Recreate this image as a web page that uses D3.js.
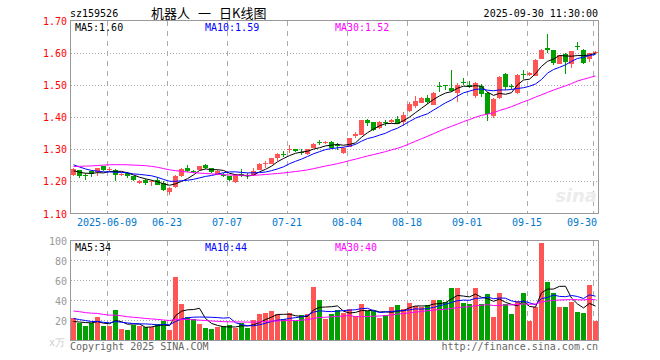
<!DOCTYPE html>
<html><head><meta charset="utf-8">
<script src="https://cdn.jsdelivr.net/npm/d3@7/dist/d3.min.js"></script>
<style>
html,body{margin:0;padding:0;background:#fff;}
svg{display:block;}
text{font-family:"DejaVu Sans Mono",monospace;font-size:10px;}
</style></head>
<body>
<svg id="chart" width="660" height="360"></svg>
<script>
// ---------- data ----------
const dates = ["05-29","05-30","06-03","06-04","06-05","06-06","06-09","06-10","06-11","06-12","06-13",
"06-16","06-17","06-18","06-19","06-20","06-23","06-24","06-25","06-26","06-27","06-30",
"07-01","07-02","07-03","07-04","07-07","07-08","07-09","07-10","07-11","07-14","07-15","07-16","07-17","07-18",
"07-21","07-22","07-23","07-24","07-25","07-28","07-29","07-30","07-31","08-01",
"08-04","08-05","08-06","08-07","08-08","08-11","08-12","08-13","08-14","08-15",
"08-18","08-19","08-20","08-21","08-22","08-25","08-26","08-27","08-28","08-29",
"09-01","09-02","09-03","09-04","09-05","09-08","09-09","09-10","09-11","09-12",
"09-15","09-16","09-17","09-18","09-19","09-22","09-23","09-24","09-25","09-26","09-29","09-30"];

const open = [1.221,1.234,1.219,1.233,1.229,1.247,1.235,1.236,1.220,1.226,1.216,1.195,1.204,1.199,1.203,1.195,1.166,1.181,1.217,1.241,1.232,1.236,
1.250,1.240,1.222,1.220,1.216,1.198,1.224,1.219,1.220,1.235,1.256,1.255,1.272,1.286,1.298,1.301,1.292,1.284,1.305,1.322,1.318,1.323,1.312,1.289,
1.307,1.342,1.344,1.391,1.383,1.365,1.383,1.383,1.394,1.385,1.420,1.433,1.444,1.460,1.438,1.497,1.498,1.491,1.474,1.509,
1.501,1.465,1.495,1.476,1.404,1.459,1.534,1.497,1.475,1.534,1.530,1.528,1.581,1.616,1.607,1.566,1.597,1.566,1.621,1.607,1.580,1.598];
const high = [1.242,1.236,1.226,1.235,1.242,1.249,1.246,1.238,1.226,1.229,1.218,1.204,1.208,1.205,1.215,1.200,1.181,1.220,1.241,1.251,1.236,1.248,
1.253,1.241,1.234,1.226,1.217,1.222,1.239,1.226,1.242,1.256,1.262,1.273,1.287,1.294,1.312,1.302,1.300,1.300,1.318,1.330,1.324,1.325,1.320,1.306,
1.336,1.352,1.391,1.394,1.385,1.387,1.390,1.395,1.404,1.414,1.448,1.465,1.462,1.468,1.477,1.510,1.500,1.545,1.505,1.520,
1.512,1.510,1.502,1.479,1.460,1.526,1.537,1.503,1.533,1.546,1.541,1.580,1.612,1.659,1.609,1.594,1.599,1.606,1.634,1.610,1.600,1.605];
const low = [1.218,1.210,1.205,1.212,1.216,1.233,1.231,1.200,1.216,1.211,1.201,1.193,1.190,1.187,1.189,1.171,1.157,1.179,1.213,1.228,1.226,1.234,
1.238,1.226,1.219,1.213,1.201,1.195,1.215,1.206,1.217,1.234,1.242,1.254,1.262,1.276,1.287,1.292,1.282,1.283,1.303,1.312,1.316,1.302,1.298,1.286,
1.306,1.336,1.343,1.373,1.357,1.364,1.372,1.381,1.377,1.373,1.415,1.427,1.442,1.441,1.436,1.477,1.483,1.477,1.447,1.500,
1.490,1.460,1.462,1.389,1.398,1.455,1.484,1.488,1.473,1.518,1.526,1.527,1.580,1.600,1.562,1.565,1.534,1.552,1.608,1.565,1.572,1.595];
const close = [1.239,1.216,1.217,1.223,1.240,1.235,1.237,1.221,1.222,1.216,1.203,1.202,1.196,1.201,1.190,1.173,1.179,1.218,1.239,1.233,1.231,1.247,
1.242,1.229,1.232,1.219,1.203,1.220,1.222,1.218,1.233,1.255,1.258,1.272,1.286,1.284,1.300,1.294,1.291,1.299,1.317,1.321,1.323,1.303,1.310,1.304,
1.334,1.347,1.390,1.381,1.360,1.385,1.381,1.392,1.378,1.407,1.440,1.451,1.460,1.446,1.475,1.496,1.496,1.480,1.500,1.507,
1.493,1.507,1.470,1.410,1.456,1.524,1.493,1.495,1.531,1.532,1.537,1.578,1.609,1.609,1.568,1.592,1.571,1.605,1.619,1.568,1.598,1.603];
// volume, in 万
const volume = [22.2,17.2,14.5,17.2,23.2,14.5,14.5,30.5,11.5,10.5,15.5,14.5,13.8,13.8,16.2,19.8,10.5,63.5,36.5,23.2,21.2,16.5,
12.8,11.8,13.2,14.5,15.5,12.8,17.2,12.8,20.5,26.5,27.5,29.5,26.2,21.2,27.2,19.8,25.5,26.5,53.5,40.5,21.5,27,30.5,27.2,
31.2,24.5,36.5,29.5,29.5,22.8,25.5,33.5,35.5,31.5,37.8,34.2,33.8,35.5,40.5,40.5,38.8,52.8,52.8,37.2,
36.5,52.8,36.5,46.5,23.5,47.8,36.5,26.5,39.5,47.8,19.8,33.2,97.8,58.5,47.8,33.5,33.5,39,29,28,56,20];
// closes / volumes before the window, estimated from where the MA lines start
const priorCloses = [1.195,1.200,1.205,1.198,1.202,1.200,1.215,1.222,1.228,1.230,1.225,1.230,
1.262,1.275,1.290,1.300,1.296,1.300,1.298,1.294,1.285,1.278,1.270,1.262,1.255,1.240,1.232,1.226,1.228];
const priorVolumes = [38,42,35,30,45,36,28,33,40,31,29,35,27,30,38,26,32,29,34,27,28,24,27,22,24,20,17,18.8,17];

const priceTicks = [1.10,1.20,1.30,1.40,1.50,1.60,1.70];
const volTicks = [20,40,60,80,100];
const tickDates = ["06-09","06-23","07-07","07-21","08-04","08-18","09-01","09-15","09-30"];
const tickLabels = ["2025-06-09","06-23","07-07","07-21","08-04","08-18","09-01","09-15","09-30"];
const maPeriods = [5,10,30];
const maColors = ["#000000","#0000ff","#ff00ff"];
const priceLegend = ["MA5:1.60","MA10:1.59","MA30:1.52"];
const volLegend = ["MA5:34","MA10:44","MA30:40"];
const titleParts = ["机器人","一","日K线图"];

// ---------- drawing ----------
const svg = d3.select("#chart");
const L = 70.5, R = 598.5, PT = 20.5, PB = 213.5, VT = 240.5, VB = 340.5;
const UP = "#ff5555", DOWN = "#00a000", GRID = "#aaaaaa", BORDER = "#999999";

const x = d3.scaleBand().domain(d3.range(dates.length)).range([71, 71 + 6 * dates.length]).padding(0);
const xc = i => x(i) + 2.5;
const y = d3.scaleLinear().domain([1.10, 1.70]).range([PB, PT]);
const yv = d3.scaleLinear().domain([0, 100]).range([VB, VT]);

function movingAvg(series, prior, n) {
  const all = prior.concat(series), off = prior.length;
  return series.map((_, i) => d3.mean(all.slice(off + i - n + 1, off + i + 1)));
}

// gridlines
const g = svg.append("g").attr("shape-rendering", "crispEdges");
priceTicks.slice(1, -1).forEach(t => {
  g.append("line").attr("x1", L).attr("x2", R).attr("y1", Math.round(y(t)) + 0.5).attr("y2", Math.round(y(t)) + 0.5)
    .attr("stroke", GRID).attr("stroke-dasharray", "1,2");
});
volTicks.slice(0, -1).forEach(t => {
  g.append("line").attr("x1", L).attr("x2", R).attr("y1", yv(t)).attr("y2", yv(t))
    .attr("stroke", GRID).attr("stroke-dasharray", "1,2");
});
tickDates.forEach(d => {
  const xi = x(dates.indexOf(d)) + 0.5;
  [[PT, PB], [VT, VB]].forEach(([a, b]) => {
    g.append("line").attr("x1", xi).attr("x2", xi).attr("y1", a).attr("y2", b)
      .attr("stroke", GRID).attr("stroke-dasharray", "5,5");
  });
});

// watermark
svg.append("text").attr("x", 597).attr("y", 202).attr("text-anchor", "end")
  .style("font-family", "DejaVu Sans").style("font-size", "18px").style("font-style", "italic").style("font-weight", "bold")
  .attr("fill", "#ececec").text("sina");

// candles
const cg = svg.append("g").attr("shape-rendering", "crispEdges");
dates.forEach((d, i) => {
  const up = close[i] >= open[i];
  const col = up ? UP : DOWN;
  cg.append("line").attr("x1", xc(i)).attr("x2", xc(i)).attr("y1", y(high[i])).attr("y2", y(low[i])).attr("stroke", col);
  const top = Math.round(y(Math.max(open[i], close[i])));
  const bot = Math.round(y(Math.min(open[i], close[i])));
  cg.append("rect").attr("x", x(i)).attr("y", top).attr("width", 5).attr("height", Math.max(1, bot - top)).attr("fill", col);
});

// volume bars
const vg = svg.append("g").attr("shape-rendering", "crispEdges");
dates.forEach((d, i) => {
  const up = close[i] >= open[i];
  vg.append("rect").attr("x", x(i)).attr("y", Math.round(yv(volume[i])))
    .attr("width", 5).attr("height", VB - Math.round(yv(volume[i]))).attr("fill", up ? UP : DOWN);
});

// MA lines
maPeriods.forEach((n, k) => {
  const mp = movingAvg(close, priorCloses, n);
  const mv = movingAvg(volume, priorVolumes, n);
  svg.append("path").datum(mp).attr("fill", "none").attr("stroke", maColors[k]).attr("stroke-width", 1)
    .attr("d", d3.line().x((v, i) => xc(i)).y(v => y(v)));
  svg.append("path").datum(mv).attr("fill", "none").attr("stroke", maColors[k]).attr("stroke-width", 1)
    .attr("d", d3.line().x((v, i) => xc(i)).y(v => yv(v)));
});

// borders
const bg = svg.append("g").attr("shape-rendering", "crispEdges");
bg.append("rect").attr("x", L).attr("y", PT).attr("width", R - L).attr("height", PB - PT).attr("fill", "none").attr("stroke", BORDER);
bg.append("rect").attr("x", L).attr("y", VT).attr("width", R - L).attr("height", VB - VT).attr("fill", "none").attr("stroke", BORDER);

// axis labels
priceTicks.forEach(t => {
  svg.append("text").attr("x", 67).attr("y", y(t) + 4).attr("text-anchor", "end").attr("fill", "#ff0000").text(t.toFixed(2));
});
volTicks.forEach(t => {
  svg.append("text").attr("x", 67).attr("y", yv(t) + 4).attr("text-anchor", "end").attr("fill", "#999999").text(t);
});
svg.append("text").attr("x", 49).attr("y", 346).attr("fill", "#cccccc").text("x万");
tickDates.forEach((d, k) => {
  const xi = x(dates.indexOf(d));
  const last = k === tickDates.length - 1;
  svg.append("text").attr("x", last ? xi + 4 : xi).attr("y", 226).attr("text-anchor", last ? "end" : "middle")
    .attr("fill", "#0077cc").text(tickLabels[k]);
});

// legends
const legX = [75, 205, 335];
priceLegend.forEach((t, k) => svg.append("text").attr("x", legX[k]).attr("y", 31).attr("fill", maColors[k]).text(t));
volLegend.forEach((t, k) => svg.append("text").attr("x", legX[k]).attr("y", 251).attr("fill", maColors[k]).text(t));

// titles
svg.append("text").attr("x", 70).attr("y", 17).attr("fill", "#000").text("sz159526");
const titleX = [151, 198, 219];
titleParts.forEach((t, k) => svg.append("text").attr("x", titleX[k]).attr("y", 18).attr("fill", "#000")
  .style("font-family", "'Noto Sans CJK SC', sans-serif").style("font-size", "13px").text(t));
svg.append("text").attr("x", 598).attr("y", 17).attr("text-anchor", "end").attr("fill", "#000").text("2025-09-30 11:30:00");
svg.append("text").attr("x", 70).attr("y", 350).attr("fill", "#666").text("Copyright 2025 SINA.COM");
svg.append("text").attr("x", 598).attr("y", 350).attr("text-anchor", "end").attr("fill", "#666").text("http://finance.sina.com.cn");
</script>
</body></html>
